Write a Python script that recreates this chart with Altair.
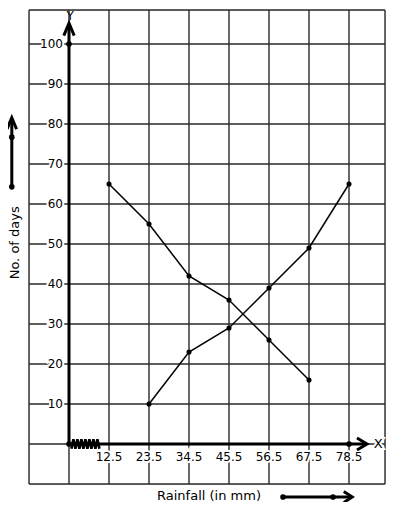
import altair as alt
import pandas as pd

# ---- data ----
rainfall = [12.5, 23.5, 34.5, 45.5, 56.5, 67.5, 78.5]
days_ticks = [10, 20, 30, 40, 50, 60, 70, 80, 90, 100]
dec_x = [12.5, 23.5, 34.5, 45.5, 56.5, 67.5]
dec_y = [65, 55, 42, 36, 26, 16]
inc_x = [23.5, 34.5, 45.5, 56.5, 67.5, 78.5]
inc_y = [10, 23, 29, 39, 49, 65]

FONT = "DejaVu Sans"
X_MIN, X_MAX = -1, 7.9
Y_MIN, Y_MAX = -10, 108.5


def idx(v):
    return rainfall.index(v) + 1


xs = alt.Scale(domain=[X_MIN, X_MAX], nice=False, zero=False)
ys = alt.Scale(domain=[Y_MIN, Y_MAX], nice=False, zero=False)
X = alt.X("x:Q", scale=xs, axis=None)
Y = alt.Y("y:Q", scale=ys, axis=None)

GRID = "#2a2a2a"

# grid
vgrid = pd.DataFrame({"x": list(range(-1, 8)) + [X_MAX]})
vgrid["y"] = Y_MIN
vgrid["y2"] = Y_MAX
hvals = list(range(-10, 101, 10)) + [Y_MAX]
hgrid = pd.DataFrame({"y": hvals})
hgrid["x"] = X_MIN
hgrid["x2"] = X_MAX

vg = alt.Chart(vgrid).mark_rule(color=GRID, strokeWidth=1.4).encode(
    x=X, y=Y, y2="y2:Q")
hg = alt.Chart(hgrid).mark_rule(color=GRID, strokeWidth=1.4).encode(
    y=Y, x=X, x2="x2:Q")

# tick labels
ylab = pd.DataFrame({"y": days_ticks, "t": [str(v) for v in days_ticks]})
ylab["x"] = -0.15
xlab = pd.DataFrame({"x": [idx(v) for v in rainfall], "t": [str(v) for v in rainfall]})
xlab["y"] = -3.3


def labels(df, align):
    base = alt.Chart(df).encode(x=X, y=Y, text="t:N")
    halo = base.mark_text(font=FONT, fontSize=12, align=align, baseline="middle",
                          color="white", stroke="white", strokeWidth=4)
    txt = base.mark_text(font=FONT, fontSize=12, align=align, baseline="middle",
                         color="black")
    return halo + txt


yl = labels(ylab, "right")
xl = labels(xlab, "center")

# data series
dec = pd.DataFrame({"x": [idx(v) for v in dec_x], "y": dec_y})
inc = pd.DataFrame({"x": [idx(v) for v in inc_x], "y": inc_y})


def series(df):
    b = alt.Chart(df).encode(x=X, y=Y)
    return b.mark_line(color="black", strokeWidth=1.5) + \
        b.mark_point(filled=True, color="black", size=26, opacity=1)


# axes, arrows and break (decorative, in data units)
paths = [
    ("yaxis", [(0, 0), (0, 105.0)]),
    ("yhead", [(-0.13, 102.1), (0, 105.2), (0.13, 102.1)]),
    ("xaxis", [(0, 0), (7.42, 0)]),
    ("xhead", [(7.2, 1.5), (7.45, 0), (7.2, -1.5)]),
    ("lshaft", [(-1.43, 64.3), (-1.43, 81.3)]),
    ("lhead", [(-1.55, 78.7), (-1.43, 81.6), (-1.31, 78.7)]),
    ("bshaft", [(5.35, -13.25), (7.05, -13.25)]),
    ("bhead", [(6.87, -11.9), (7.08, -13.25), (6.87, -14.6)]),
]
rows = []
for g, pts in paths:
    for i, (px, py) in enumerate(pts):
        rows.append({"g": g, "o": i, "x": px, "y": py})
pathdf = pd.DataFrame(rows)
arrows = alt.Chart(pathdf).mark_line(color="black", strokeWidth=3, clip=False).encode(
    x=X, y=Y, detail="g:N", order="o:Q")

zz = []
n = 15
for i in range(n):
    zz.append({"x": 0.06 + i * 0.05, "y": 1.2 if i % 2 else -1.2, "o": i})
zzdf = pd.DataFrame(zz)
zig = alt.Chart(zzdf).mark_line(color="black", strokeWidth=2.6).encode(
    x=X, y=Y, order="o:Q")

dots = pd.DataFrame({"x": [0, 0, 7, -1.43, -1.43, 5.35, 6.6],
                     "y": [0, 100, 0, 64.3, 76.7, -13.25, -13.25]})
dotm = alt.Chart(dots).mark_point(filled=True, color="black", size=32, opacity=1,
                                  clip=False).encode(x=X, y=Y)

# axis letters and titles
txts = pd.DataFrame({
    "x": [0.03, 7.73, 3.5],
    "y": [106.9, 0.1, -13.0],
    "t": ["Y", "X", "Rainfall (in mm)"],
    "s": [12, 13, 13],
})
lt = alt.Chart(txts).mark_text(font=FONT, align="center",
                               baseline="middle", color="black", clip=False).encode(
    x=X, y=Y, text="t:N", size=alt.Size("s:Q", scale=None, legend=None))
xhalo = alt.Chart(txts.iloc[[1]]).mark_text(font=FONT, fontSize=13, align="center",
                                           baseline="middle", color="white",
                                           stroke="white", strokeWidth=4).encode(
    x=X, y=Y, text="t:N")
ytitle = alt.Chart(pd.DataFrame({"x": [-1.36], "y": [50.3], "t": ["No. of days"]})).mark_text(
    font=FONT, fontSize=13, align="center", baseline="middle", angle=270,
    color="black", clip=False).encode(x=X, y=Y, text="t:N")

chart = alt.layer(
    vg, hg, yl, xl, series(dec), series(inc), arrows, zig, dotm, xhalo, lt, ytitle
).properties(
    width=356, height=474,
    autosize=alt.AutoSizeParams(type="none"),
    padding={"left": 21, "top": 2, "right": 1, "bottom": 18},
).configure_view(stroke=None).configure(background="white")

chart.save("out.html", embed_options={"renderer": "svg", "actions": False})
